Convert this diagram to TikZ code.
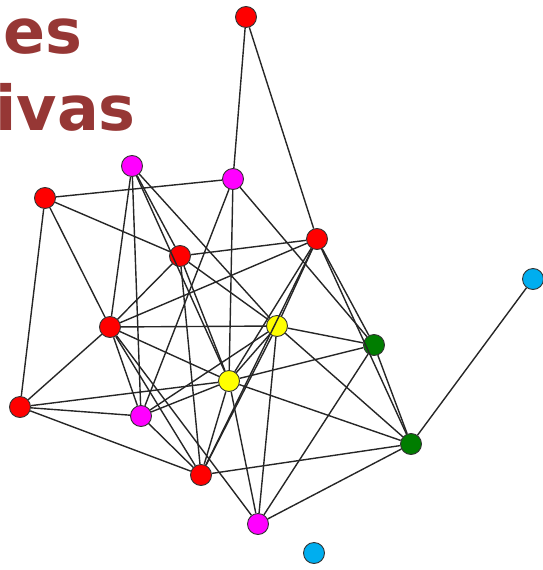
\documentclass[tikz,border=0pt]{standalone}
\usepackage{fontspec}
\newfontfamily\titlefont{DejaVu Sans}
\definecolor{titlered}{RGB}{150,55,53}
\definecolor{vred}{RGB}{255,0,0}
\definecolor{vmagenta}{RGB}{255,0,255}
\definecolor{vyellow}{RGB}{255,255,0}
\definecolor{vgreen}{RGB}{0,125,0}
\definecolor{vcyan}{RGB}{0,174,239}
\tikzset{
  vertex/.style={circle, draw=black!80, line width=0.9pt, minimum size=21pt, inner sep=0pt},
  edge/.style={line width=1.4pt, black!85}
}
\begin{document}
\begin{tikzpicture}[x=1pt, y=-1pt]
            \useasboundingbox (0,0) rectangle (543,570);

            % Title (cut at the left margin)
            \node[anchor=base east, inner sep=0pt, text=titlered] (title1) at (83,53)
                {\titlefont\bfseries\fontsize{62}{74}\selectfont es};
            \node[anchor=base east, inner sep=0pt, text=titlered] (title2) at (136,130)
                {\titlefont\bfseries\fontsize{62}{74}\selectfont ivas};

            % Vertices
            \node[vertex, fill=vred] (red1) at (246,17) {};
            \node[vertex, fill=vmagenta] (mag1) at (233,179) {};
            \node[vertex, fill=vmagenta] (mag2) at (132,166) {};
            \node[vertex, fill=vred] (red2) at (45,198) {};
            \node[vertex, fill=vred] (red3) at (180,256) {};
            \node[vertex, fill=vred] (red4) at (317,239) {};
            \node[vertex, fill=vred] (red5) at (110,327) {};
            \node[vertex, fill=vyellow] (yel1) at (277,326) {};
            \node[vertex, fill=vgreen] (grn1) at (374,345) {};
            \node[vertex, fill=vyellow] (yel2) at (229,381) {};
            \node[vertex, fill=vred] (red6) at (20,407) {};
            \node[vertex, fill=vmagenta] (mag3) at (141,416) {};
            \node[vertex, fill=vgreen] (grn2) at (411,444) {};
            \node[vertex, fill=vred] (red7) at (201,475) {};
            \node[vertex, fill=vmagenta] (mag4) at (258,524) {};
            \node[vertex, fill=vcyan] (cyan1) at (314,553) {};
            \node[vertex, fill=vcyan] (cyan2) at (533,279) {};

            % Edges
            \draw[edge] (red1) -- (mag1);
            \draw[edge] (red1) -- (red4);

            \draw[edge] (mag1) -- (red2);
            \draw[edge] (mag1) -- (mag3);
            \draw[edge] (mag1) -- (yel2);
            \draw[edge] (mag1) -- (grn1);

            \draw[edge] (mag2) -- (red5);
            \draw[edge] (mag2) -- (mag3);
            \draw[edge] (mag2) -- (red3);
            \draw[edge] (mag2) -- (yel1);
            \draw[edge] (mag2) -- (yel2);

            \draw[edge] (red2) -- (red3);
            \draw[edge] (red2) -- (red5);
            \draw[edge] (red2) -- (red6);

            \draw[edge] (red3) -- (red4);
            \draw[edge] (red3) -- (red5);
            \draw[edge] (red3) -- (yel1);
            \draw[edge] (red3) -- (yel2);
            \draw[edge] (red3) -- (red7);

            \draw[edge] (red4) -- (red5);
            \draw[edge] (red4) -- (yel1);
            \draw[edge] (red4) -- (yel2);
            \draw[edge] (red4) -- (red7);
            \draw[edge] (red4) -- (grn1);
            \draw[edge] (red4) -- (grn2);

            \draw[edge] (red5) -- (yel1);
            \draw[edge] (red5) -- (yel2);
            \draw[edge] (red5) -- (red6);
            \draw[edge] (red5) -- (mag3);
            \draw[edge] (red5) -- (red7);
            \draw[edge] (red5) -- (mag4);

            \draw[edge] (yel1) -- (grn1);
            \draw[edge] (yel1) -- (yel2);
            \draw[edge] (yel1) -- (mag3);
            \draw[edge] (yel1) -- (grn2);
            \draw[edge] (yel1) -- (red7);
            \draw[edge] (yel1) -- (mag4);

            \draw[edge] (grn1) -- (yel2);
            \draw[edge] (grn1) -- (mag4);
            \draw[edge] (grn1) -- (grn2);

            \draw[edge] (yel2) -- (red6);
            \draw[edge] (yel2) -- (mag3);
            \draw[edge] (yel2) -- (grn2);
            \draw[edge] (yel2) -- (red7);
            \draw[edge] (yel2) -- (mag4);

            \draw[edge] (red6) -- (mag3);
            \draw[edge] (red6) -- (red7);
            \draw[edge] (mag3) -- (red7);

            \draw[edge] (grn2) -- (red7);
            \draw[edge] (grn2) -- (mag4);
            \draw[edge] (grn2) -- (cyan2);
\end{tikzpicture}
\end{document}
